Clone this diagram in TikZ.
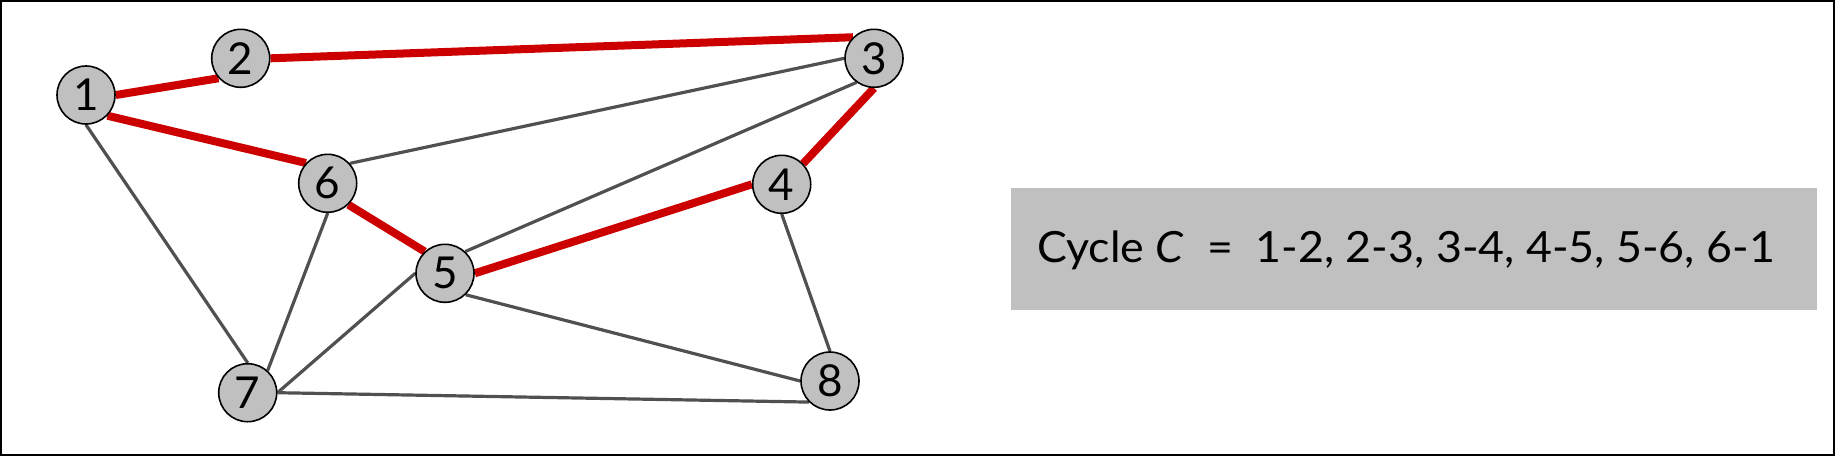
\documentclass[tikz,border=0pt]{standalone}
\usepackage{fontspec}
\setmainfont{Lato}
\usetikzlibrary{backgrounds}
\begin{document}
\begin{tikzpicture}[x=1pt,y=-1pt,
  vtx/.style={circle,draw=black,line width=1.6pt,fill=vgrey,minimum size=58pt,inner sep=0pt,font=\fontsize{44}{44}\selectfont},
  edge/.style={draw=egrey,line width=3.2pt},
  cyc/.style={draw=cred,line width=8pt},
  box/.style={fill=vgrey,draw=none,minimum width=806pt,minimum height=122pt,inner sep=0pt}]
\definecolor{vgrey}{RGB}{192,192,192}
\definecolor{egrey}{RGB}{80,80,80}
\definecolor{cred}{RGB}{204,0,0}
\useasboundingbox (0,0) rectangle (1835,456);
\draw[line width=2pt] (1,1) rectangle (1834,455);
\node[vtx] (n1) at (86,95) {1};
\node[vtx] (n2) at (240.7,58.3) {2};
\node[vtx] (n3) at (874,58.3) {3};
\node[vtx] (n4) at (781.7,184.3) {4};
\node[vtx] (n5) at (445,273.3) {5};
\node[vtx] (n6) at (327.7,183.3) {6};
\node[vtx] (n7) at (247.7,392.7) {7};
\node[vtx] (n8) at (830,381) {8};
\begin{scope}[on background layer]
\draw[edge] (n1.south) -- (n7.north);
\draw[edge] (n6.42) -- (n3.west);
\draw[edge] (n5.47) -- (n3.234);
\draw[edge] (n6.south) -- (n7.48);
\draw[edge] (n5.west) -- (n7.east);
\draw[edge] (n5.-46) -- (n8.west);
\draw[edge] (n7.east) -- (n8.225);
\draw[edge] (n4.south) -- (n8.north);
\draw[cyc] (n1.east) -- (n2.222);
\draw[cyc] (n2.east) -- (n3.135);
\draw[cyc] (n4.44) -- (n3.south);
\draw[cyc] (n5.east) -- (n4.west);
\draw[cyc] (n6.-46) -- (n5.133);
\draw[cyc] (n1.-44) -- (n6.137);
\end{scope}
\node[box] (cbox) at (1414,249) {};
\node[font=\fontsize{43}{43}\selectfont,anchor=center] (ctext) at (1406,250) {\scalebox{1.04}[1]{Cycle \textit{C}\ \ =\ \ 1-2, 2-3, 3-4, 4-5, 5-6, 6-1}};
\end{tikzpicture}
\end{document}
